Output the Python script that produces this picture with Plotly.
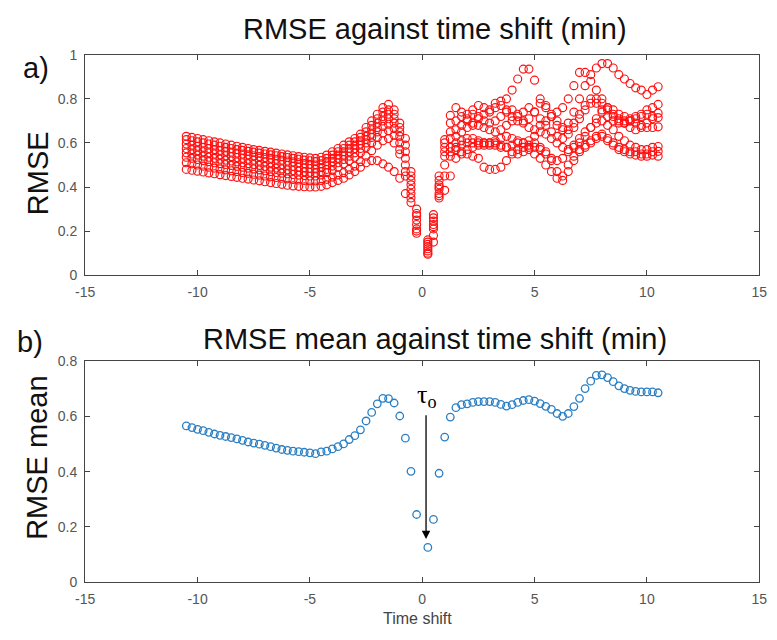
import plotly.graph_objects as go

# ---------------- data ----------------
TIME_SHIFT = [-10.5, -10.25, -10.0, -9.75, -9.5, -9.25, -9.0, -8.75, -8.5, -8.25, -8.0, -7.75,
              -7.5, -7.25, -7.0, -6.75, -6.5, -6.25, -6.0, -5.75, -5.5, -5.25, -5.0, -4.75,
              -4.5, -4.25, -4.0, -3.75, -3.5, -3.25, -3.0, -2.75, -2.5, -2.25, -2.0, -1.75,
              -1.5, -1.25, -1.0, -0.75, -0.5, -0.25,
              0.25, 0.5, 0.75, 1.0, 1.25, 1.5, 1.75, 2.0, 2.25, 2.5, 2.75, 3.0, 3.25, 3.5,
              3.75, 4.0, 4.25, 4.5, 4.75, 5.0, 5.25, 5.5, 5.75, 6.0, 6.25, 6.5, 6.75, 7.0,
              7.25, 7.5, 7.75, 8.0, 8.25, 8.5, 8.75, 9.0, 9.25, 9.5, 9.75, 10.0, 10.25, 10.5]

RMSE_1 = [0.63, 0.625, 0.62, 0.615, 0.61, 0.605, 0.60, 0.595, 0.59, 0.585, 0.58, 0.575, 0.57, 0.566, 0.562, 0.558, 0.554, 0.55, 0.546, 0.542, 0.538, 0.535, 0.532,
          0.53, 0.535, 0.545, 0.56, 0.575, 0.59, 0.605, 0.62, 0.64, 0.67, 0.70, 0.73, 0.76, 0.775, 0.75, 0.69, 0.62, 0.47, 0.30,
          0.16, 0.275, 0.45, 0.615, 0.725,
          0.76, 0.74, 0.73, 0.75, 0.77, 0.76, 0.74, 0.76, 0.79, 0.80, 0.84, 0.89, 0.935, 0.935, 0.885, 0.80, 0.77, 0.73, 0.70, 0.67, 0.66, 0.69, 0.73, 0.77, 0.80, 0.78, 0.75, 0.72, 0.70, 0.69, 0.70, 0.71, 0.72, 0.73, 0.75, 0.76, 0.775]
RMSE_2 = [0.615, 0.61, 0.605, 0.60, 0.595, 0.59, 0.585, 0.58, 0.575, 0.57, 0.566, 0.562, 0.558, 0.554, 0.55, 0.546, 0.542, 0.538, 0.534, 0.53, 0.526, 0.522, 0.519,
          0.515, 0.52, 0.53, 0.545, 0.56, 0.575, 0.59, 0.605, 0.625, 0.65, 0.68, 0.71, 0.74, 0.75, 0.73, 0.67, 0.59, 0.45, 0.28,
          0.15, 0.26, 0.43, 0.60, 0.69,
          0.70, 0.72, 0.70, 0.69, 0.71, 0.73, 0.75, 0.78, 0.77, 0.75, 0.72, 0.70, 0.69, 0.71, 0.74, 0.78, 0.76, 0.72, 0.68, 0.66, 0.69, 0.74, 0.80, 0.86, 0.91, 0.94, 0.96, 0.96, 0.94, 0.91, 0.89, 0.87, 0.85, 0.84, 0.82, 0.84, 0.855]
RMSE_3 = [0.595, 0.59, 0.585, 0.58, 0.575, 0.57, 0.566, 0.562, 0.558, 0.554, 0.55, 0.546, 0.542, 0.538, 0.534, 0.53, 0.526, 0.522, 0.518, 0.514, 0.51, 0.506, 0.503,
          0.50, 0.505, 0.515, 0.53, 0.545, 0.56, 0.575, 0.59, 0.61, 0.63, 0.66, 0.69, 0.72, 0.73, 0.71, 0.65, 0.56, 0.43, 0.27,
          0.14, 0.245, 0.41, 0.58, 0.65,
          0.66, 0.68, 0.71, 0.73, 0.72, 0.70, 0.69, 0.70, 0.72, 0.74, 0.75, 0.73, 0.70, 0.67, 0.66, 0.68, 0.70, 0.72, 0.74, 0.76, 0.80, 0.86, 0.92, 0.92, 0.88, 0.84, 0.80, 0.76, 0.73, 0.71, 0.69, 0.67, 0.66, 0.67, 0.69, 0.71, 0.735]
RMSE_4 = [0.575, 0.57, 0.565, 0.56, 0.555, 0.55, 0.546, 0.542, 0.538, 0.534, 0.53, 0.526, 0.522, 0.518, 0.514, 0.51, 0.506, 0.502, 0.498, 0.494, 0.49, 0.487, 0.484,
          0.482, 0.488, 0.50, 0.515, 0.53, 0.545, 0.56, 0.575, 0.595, 0.615, 0.64, 0.67, 0.70, 0.71, 0.69, 0.63, 0.53, 0.41, 0.25,
          0.13, 0.23, 0.40, 0.56, 0.62,
          0.63, 0.65, 0.67, 0.68, 0.68, 0.67, 0.66, 0.65, 0.66, 0.68, 0.70, 0.72, 0.74, 0.76, 0.74, 0.71, 0.68, 0.65, 0.63, 0.62, 0.64, 0.67, 0.71, 0.75, 0.78, 0.80, 0.78, 0.75, 0.72, 0.70, 0.69, 0.70, 0.71, 0.72, 0.73, 0.72, 0.715]
RMSE_5 = [0.555, 0.55, 0.545, 0.54, 0.535, 0.53, 0.526, 0.522, 0.518, 0.514, 0.51, 0.506, 0.502, 0.498, 0.494, 0.49, 0.486, 0.482, 0.478, 0.475, 0.472, 0.469, 0.467,
          0.465, 0.47, 0.48, 0.495, 0.51, 0.525, 0.54, 0.555, 0.575, 0.60, 0.625, 0.65, 0.675, 0.685, 0.665, 0.60, 0.50, 0.39, 0.23,
          0.12, 0.22, 0.39, 0.54, 0.58,
          0.60, 0.61, 0.62, 0.62, 0.61, 0.60, 0.60, 0.61, 0.62, 0.63, 0.62, 0.61, 0.60, 0.61, 0.63, 0.65, 0.64, 0.62, 0.60, 0.58, 0.57, 0.58, 0.60, 0.63, 0.67, 0.71, 0.74, 0.76, 0.75, 0.73, 0.72, 0.70, 0.69, 0.68, 0.67, 0.67, 0.673]
RMSE_6 = [0.535, 0.53, 0.525, 0.52, 0.515, 0.51, 0.506, 0.502, 0.498, 0.494, 0.49, 0.486, 0.482, 0.478, 0.474, 0.47, 0.466, 0.463, 0.46, 0.457, 0.454, 0.452, 0.45,
          0.45, 0.455, 0.465, 0.475, 0.49, 0.505, 0.52, 0.535, 0.555, 0.58, 0.60, 0.625, 0.645, 0.655, 0.635, 0.57, 0.47, 0.37, 0.21,
          0.11, 0.21, 0.37, 0.50, 0.56,
          0.58, 0.59, 0.60, 0.60, 0.60, 0.60, 0.59, 0.59, 0.58, 0.58, 0.59, 0.60, 0.60, 0.59, 0.58, 0.57, 0.55, 0.53, 0.52, 0.53, 0.56, 0.59, 0.62, 0.65, 0.67, 0.69, 0.70, 0.68, 0.66, 0.63, 0.61, 0.59, 0.58, 0.57, 0.57, 0.58, 0.584]
RMSE_7 = [0.51, 0.505, 0.50, 0.495, 0.49, 0.486, 0.482, 0.478, 0.474, 0.47, 0.466, 0.462, 0.458, 0.454, 0.45, 0.446, 0.443, 0.44, 0.437, 0.434, 0.432, 0.43, 0.428,
          0.428, 0.43, 0.435, 0.445, 0.455, 0.465, 0.48, 0.495, 0.515, 0.54, 0.565, 0.59, 0.61, 0.62, 0.60, 0.55, 0.45, 0.35, 0.20,
          0.10, 0.18, 0.36, 0.45, 0.54,
          0.57, 0.56, 0.55, 0.54, 0.53, 0.49, 0.48, 0.48, 0.49, 0.52, 0.55, 0.57, 0.58, 0.57, 0.55, 0.53, 0.50, 0.47, 0.44, 0.43, 0.47, 0.52, 0.56, 0.59, 0.61, 0.63, 0.64, 0.62, 0.60, 0.58, 0.57, 0.56, 0.56, 0.55, 0.55, 0.56, 0.562]
RMSE_8 = [0.48, 0.476, 0.472, 0.468, 0.464, 0.46, 0.456, 0.452, 0.448, 0.444, 0.44, 0.436, 0.432, 0.428, 0.424, 0.42, 0.416, 0.412, 0.408, 0.405, 0.403, 0.401, 0.40,
          0.40, 0.403, 0.41, 0.42, 0.43, 0.44, 0.455, 0.47, 0.49, 0.51, 0.52, 0.52, 0.505, 0.49, 0.47, 0.44, 0.37, 0.33, 0.19,
          0.095, 0.15, 0.35, 0.385, 0.45,
          0.53, 0.55, 0.57, 0.58, 0.59, 0.59, 0.60, 0.60, 0.59, 0.58, 0.56, 0.55, 0.56, 0.58, 0.60, 0.58, 0.56, 0.52, 0.47, 0.45, 0.50, 0.54, 0.57, 0.58, 0.60, 0.62, 0.63, 0.61, 0.59, 0.57, 0.56, 0.55, 0.545, 0.54, 0.54, 0.545, 0.54]

RMSE_MEAN = [0.565, 0.559, 0.553, 0.548, 0.542, 0.536, 0.531, 0.527, 0.523, 0.518, 0.513, 0.507,
             0.503, 0.499, 0.495, 0.490, 0.485, 0.480, 0.477, 0.474, 0.472, 0.470, 0.468, 0.465,
             0.471, 0.474, 0.482, 0.490, 0.500, 0.516, 0.530, 0.551, 0.583, 0.614, 0.645, 0.665,
             0.664, 0.648, 0.601, 0.521, 0.401, 0.245,
             0.126, 0.227, 0.394, 0.525, 0.597, 0.631, 0.642, 0.645, 0.650, 0.653, 0.653, 0.653,
             0.650, 0.643, 0.637, 0.642, 0.650, 0.657, 0.660, 0.655, 0.646, 0.636, 0.625, 0.610,
             0.600, 0.610, 0.635, 0.665, 0.700, 0.727, 0.748, 0.750, 0.740, 0.725, 0.710, 0.700,
             0.694, 0.690, 0.688, 0.688, 0.688, 0.685]

SERIES = [RMSE_1, RMSE_2, RMSE_3, RMSE_4, RMSE_5, RMSE_6, RMSE_7, RMSE_8]

X_TICKS = [-15, -10, -5, 0, 5, 10, 15]
X_TICK_TEXT = ["-15", "-10", "-5", "0", "5", "10", "15"]
Y1_TICKS = [0, 0.2, 0.4, 0.6, 0.8, 1]
Y1_TICK_TEXT = ["0", "0.2", "0.4", "0.6", "0.8", "1"]
Y2_TICKS = [0, 0.2, 0.4, 0.6, 0.8]
Y2_TICK_TEXT = ["0", "0.2", "0.4", "0.6", "0.8"]

TAU_X = 0.17
TAU_TOP = 0.609
TAU_HEAD = 0.156

# ---------------- figure ----------------
fig = go.Figure()
for s in SERIES:
    fig.add_trace(go.Scatter(
        x=TIME_SHIFT, y=s, mode="markers", xaxis="x", yaxis="y", showlegend=False,
        marker=dict(symbol="circle-open", size=8, color="#ff1010", line=dict(width=1.15, color="#ff1010")),
    ))
fig.add_trace(go.Scatter(
    x=TIME_SHIFT, y=RMSE_MEAN, mode="markers", xaxis="x2", yaxis="y2", showlegend=False,
    marker=dict(symbol="circle-open", size=7.5, color="#2a7fc4", line=dict(width=1.3, color="#2a7fc4")),
))

tickfont = dict(family="Liberation Sans, Arial, sans-serif", size=14, color="#555555")
common = dict(showline=True, linecolor="#444444", linewidth=1.3, mirror="ticks",
              ticks="inside", ticklen=5, tickwidth=1.1, tickcolor="#444444",
              showgrid=False, zeroline=False, tickfont=tickfont)

XDOM = [77 / 777, 767 / 777]
fig.update_layout(
    width=777, height=640,
    margin=dict(l=0, r=0, t=0, b=0),
    paper_bgcolor="white", plot_bgcolor="white",
    xaxis=dict(domain=XDOM, range=[-15, 15], tickvals=X_TICKS, ticktext=X_TICK_TEXT,
               anchor="y", ticklabelstandoff=4, **common),
    yaxis=dict(domain=[1 - 274 / 640, 1 - 48 / 640], range=[0, 1], tickvals=Y1_TICKS,
               ticktext=Y1_TICK_TEXT, anchor="x", ticklabelstandoff=4, **common),
    xaxis2=dict(domain=XDOM, range=[-15, 15], tickvals=X_TICKS, ticktext=X_TICK_TEXT,
                anchor="y2", ticklabelstandoff=4, **common),
    yaxis2=dict(domain=[1 - 589 / 640, 1 - 362 / 640], range=[0, 0.8], tickvals=Y2_TICKS,
                ticktext=Y2_TICK_TEXT, anchor="x2", ticklabelstandoff=4, **common),
)

big = dict(family="Liberation Sans, Arial, sans-serif", size=29, color="#111111")
ann = [
    dict(text="RMSE against time shift (min)", x=435 / 777, y=1 - 22 / 640, font=big),
    dict(text="RMSE mean against time shift (min)", x=435 / 777, y=1 - 339 / 640, font=big),
    dict(text="a)", x=27 / 777, y=1 - 62 / 640, font=big),
    dict(text="b)", x=20 / 777, y=1 - 343 / 640, font=big),
    dict(text="RMSE", x=28 / 777, y=1 - 169 / 640, textangle=-90, font=big),
    dict(text="RMSE mean", x=28 / 777, y=1 - 461 / 640, textangle=-90, font=big),
    dict(text="Time shift", x=417 / 777, y=1 - 626 / 640,
         font=dict(family="Liberation Sans Narrow, Arial Narrow, Liberation Sans, sans-serif", size=16, color="#444444")),
]
for a in ann:
    fig.add_annotation(xref="paper", yref="paper", xanchor="center", yanchor="middle",
                       showarrow=False, **a)

fig.add_annotation(xref="x2", yref="y2", x=TAU_X, y=TAU_HEAD, ax=TAU_X, ay=TAU_TOP,
                   axref="x2", ayref="y2", text="", showarrow=True, arrowhead=2,
                   arrowsize=1.3, arrowwidth=1.3, arrowcolor="#000000")
fig.add_annotation(xref="x2", yref="y2", x=TAU_X + 0.05, y=0.672, text="τ<sub>o</sub>",
                   showarrow=False, xanchor="center", yanchor="middle",
                   font=dict(family="Liberation Serif, Times New Roman, serif", size=26, color="#000000"))

fig.write_html("out.html")
